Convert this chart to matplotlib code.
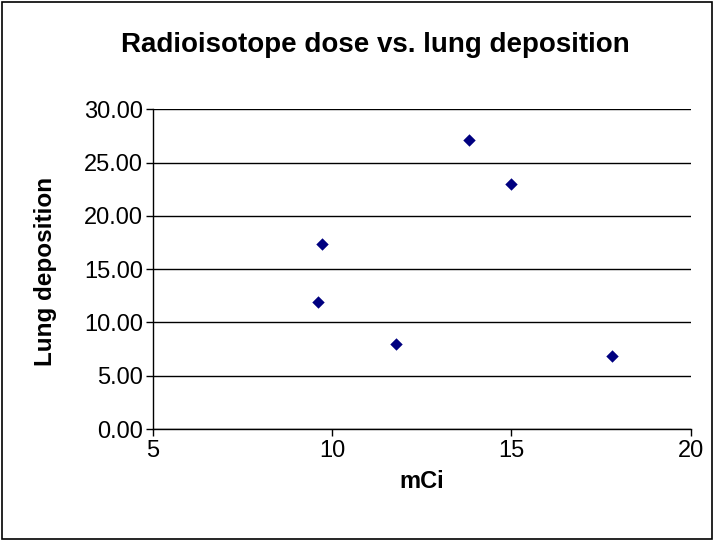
import matplotlib
matplotlib.use("Agg")
import matplotlib.pyplot as plt
from matplotlib.patches import Rectangle

mci = [9.61, 9.72, 11.78, 13.82, 14.99, 17.81]
lung_dep = [11.88, 17.38, 8.00, 27.10, 23.00, 6.88]
x_ticks = [5, 10, 15, 20]
y_ticks = [0, 5, 10, 15, 20, 25, 30]

plt.rcParams['font.family'] = ['Liberation Sans', 'DejaVu Sans']

fig = plt.figure(figsize=(7.14, 5.41), dpi=100)
ax = fig.add_axes([153/714, 1-429/541, (690.5-153)/714, (429-109.3)/541])

ax.scatter(mci, lung_dep, marker='D', s=40, color='#000080', zorder=3, linewidths=0)

ax.set_xlim(5, 20)
ax.set_ylim(0, 30)
ax.set_xticks(x_ticks)
ax.set_xticklabels([str(v) for v in x_ticks])
ax.set_yticks(y_ticks)
ax.set_yticklabels([f"{v:.2f}" for v in y_ticks])
ax.grid(axis='y', color='black', linewidth=1)
ax.set_axisbelow(True)
for s in ['top', 'right']:
    ax.spines[s].set_visible(False)
for s in ['left', 'bottom']:
    ax.spines[s].set_linewidth(1)
    ax.spines[s].set_color('black')
ax.tick_params(axis='both', direction='out', length=5, width=1, labelsize=17, colors='black')
ax.tick_params(axis='x', pad=3)
ax.tick_params(axis='y', pad=2)

ax.set_xlabel('mCi', fontsize=17, fontweight='bold')
ax.xaxis.set_label_coords(421.5 / 714, (541 - 481) / 541, transform=fig.transFigure)
ax.xaxis.label.set_va('center')
ax.set_ylabel('Lung deposition', fontsize=17.5, fontweight='bold')
ax.yaxis.set_label_coords(46 / 714, 1 - 271 / 541, transform=fig.transFigure)
ax.yaxis.label.set_va('center')
fig.text(375 / 714, 1 - 45 / 541, 'Radioisotope dose vs. lung deposition', ha='center', va='center',
         fontsize=20, fontweight='bold')

fig.patches.append(Rectangle((0.003, 0.003), 0.994, 0.994, transform=fig.transFigure,
                             fill=False, edgecolor='black', linewidth=1.2))

fig.savefig('out.png', dpi=100)
